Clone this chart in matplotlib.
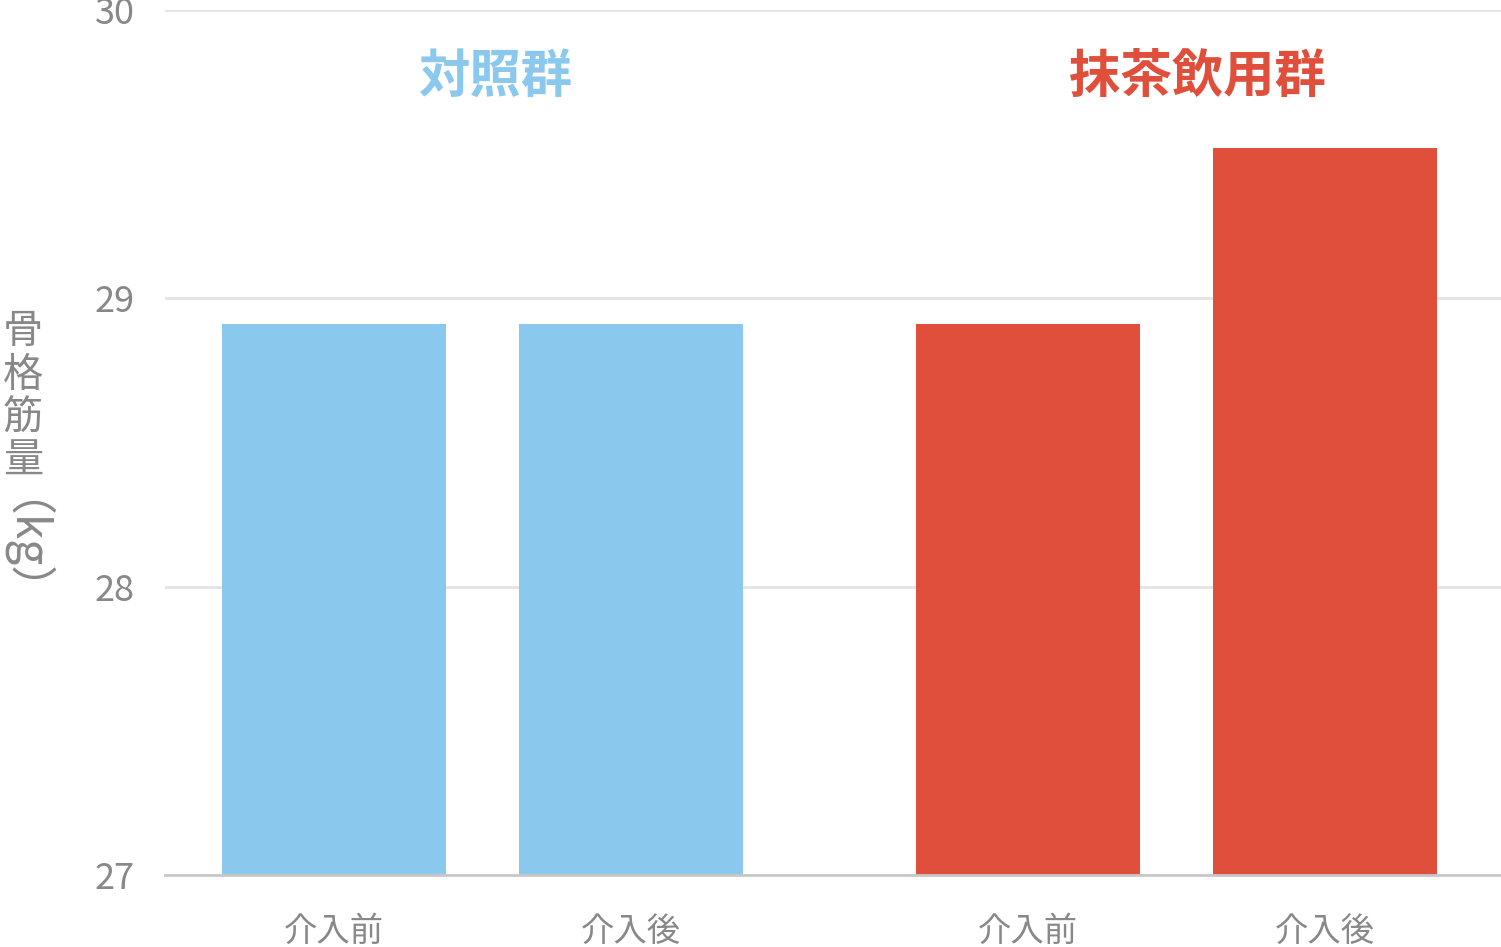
import matplotlib
matplotlib.use("Agg")
import matplotlib.pyplot as plt

plt.rcParams["font.family"] = ["Noto Sans CJK JP", "DejaVu Sans"]

# data
groups = ["対照群", "抹茶飲用群"]
phases = ["介入前", "介入後", "介入前", "介入後"]
values = [28.91, 28.91, 28.91, 29.52]
positions = [0.0, 1.0, 2.335, 3.335]
y_ticks = [27, 28, 29, 30]
y_label_chars = "骨格筋量"
y_label_unit = "（kg）"

BLUE = "#8AC8EE"
RED = "#DF4F3B"
GRAY = "#888888"
bar_colors = [BLUE, BLUE, RED, RED]
group_colors = [BLUE, RED]
group_x = [0.542, 2.906]

W, H = 1501, 947
fig = plt.figure(figsize=(W / 100, H / 100), dpi=100)
ax = fig.add_axes([165 / W, (H - 875) / H, 1 - 165 / W, (875 - 10) / H])

ax.bar(positions, values, width=0.754, color=bar_colors, zorder=3)
ax.set_ylim(27, 30)
ax.set_xlim(-0.569, 3.929)

ax.set_yticks(y_ticks)
ax.set_yticklabels([str(t) for t in y_ticks])
ax.set_xticks(positions)
ax.set_xticklabels(phases)
ax.tick_params(axis="y", length=0, pad=22, labelsize=26, labelcolor=GRAY)
ax.tick_params(axis="x", length=0, pad=28, labelsize=24, labelcolor=GRAY)

ax.grid(axis="y", color="#e3e3e3", linewidth=2, zorder=0)
for s in ["left", "right", "top"]:
    ax.spines[s].set_visible(False)
ax.spines["bottom"].set_color("#c8c8c8")
ax.spines["bottom"].set_linewidth(2)
ax.spines["bottom"].set_zorder(4)

# group labels
for gx, name, c in zip(group_x, groups, group_colors):
    ax.text(gx, 29.77, name, color=c, fontsize=37, fontweight="bold",
            ha="center", va="center")

# vertical y label
for i, ch in enumerate(y_label_chars):
    fig.text(23 / W, 1 - (332 + i * 43) / H, ch, color=GRAY, fontsize=29,
             ha="center", va="center")
fig.text(-15 / W, 1 - 570 / H, y_label_unit, color=GRAY, fontsize=33,
         ha="center", va="baseline", rotation=-90, rotation_mode="anchor")

fig.savefig("out.png", dpi=100)
